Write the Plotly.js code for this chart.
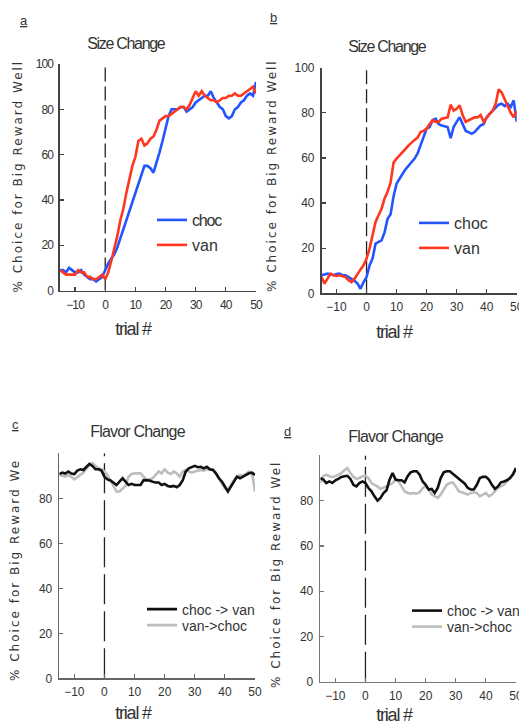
<!DOCTYPE html>
<html>
<head>
<meta charset="utf-8">
<script src="https://cdn.plot.ly/plotly-3.0.1.min.js"></script>
<style>
html,body{margin:0;padding:0;background:#fff;}
#chart{width:519px;height:725px;}
</style>
</head>
<body>
<div id="chart"></div>
<script>
// ---- data ----
const trials = [-15,-14,-13,-12,-11,-10,-9,-8,-7,-6,-5,-4,-3,-2,-1,0,1,2,3,4,5,6,7,8,9,10,11,12,13,14,15,16,17,18,19,20,21,22,23,24,25,26,27,28,29,30,31,32,33,34,35,36,37,38,39,40,41,42,43,44,45,46,47,48,49,50];

// Panel a: Size Change
const aChoc = [9,9,8,10,9,8,8,9,7,6,5,5,4,5,6,9,12,14,16,19,23,27,31,36,40,44,47,51,55,55,54,52,56,61,66,71,77,80,80,80,81,81,79,80,81,83,84,85,86,86,88,85,83,81,80,77,76,77,80,81,83,84,86,87,86,92];
const aVan  = [9,8,7,7,7,7,9,8,8,6,6,5,5,6,7,5,8,13,18,24,31,36,43,49,55,59,66,67,64,65,67,68,71,75,76,77,77,78,79,80,81,81,80,82,85,88,86,88,86,85,84,84,83,84,85,85,86,86,87,86,86,87,88,89,90,87];

// Panel b: Size Change
const bChoc = [8,8.5,8.7,8.3,8,8.5,8.7,8,8,7.2,6.5,5.5,4.3,2,5,7.2,12.4,15.4,22,22.7,23.5,27,33,35,43,48.6,51,53,55,56.5,58,59.7,62,65.6,70,73,73.7,76.7,77.4,75,74.4,74,73.7,68.8,73.7,76,78,75,72,71.4,70.7,71.5,73,74.4,75,78,79.5,81,82.5,83.6,84,83,84,82.6,85.5,76];
const bVan  = [7.2,4.3,6.5,8.7,8,7.7,8,7.5,7.2,5.8,5,6.5,8.7,10.6,12.4,15.4,19.8,25.7,31.6,34.6,37.5,42,45,49,58,59.7,61,62.6,64,65.6,67,68,69,71.5,72,73,75,76.7,76,76,77.4,77.8,78,83.6,81,81.8,83.3,79,76,76.7,77.4,78,78,79,76,78,79.5,81,84,90.4,89,86,83,80,78,81];

// Panel c: Flavor Change
const cChocVan = [90.8,91.4,91,91.9,91,90.8,92.3,92.9,92.6,94,95.3,94.4,92.9,92.9,92.3,89.6,88.4,87.9,86.7,85.9,87.4,88.9,87.4,85.9,86.4,85.9,85.9,85.9,88.1,88.1,87.9,87.4,87,87,85.9,86.4,85.5,85.2,85.5,84.9,85.9,88.1,91.9,93.3,93.8,94.4,93.8,94,93.3,94,92.9,92.6,91.1,88.9,87.4,85.2,83,85.2,87.4,89.6,88.9,89.6,90.4,91.1,91.4,90.4];
const cVanChoc = [90.4,89.9,89.6,90.4,89.6,88.4,89.6,90.4,91.4,93.3,94.8,95.6,94.4,93.3,92.9,91.9,90.4,88.1,85.2,83,83,84.4,85.5,89.6,90.8,91.1,91.1,91.1,89.6,88.4,88.4,88.9,90.4,91.9,91.1,92.9,91.4,90.8,91.9,91.1,89.6,91.9,92.6,91.9,91.4,91.9,92.3,92.6,92.3,92.9,92.6,92.9,91.4,88.9,87,84.4,83.7,85.9,88.1,89.6,90.4,89.9,90.8,91.9,91.1,83];

// Panel d: Flavor Change
const dChocVan = [90,89.3,87.8,88.5,87.8,89,89.6,90.5,90.8,91,89.6,87,86.3,87.8,88.5,87.8,85.6,84.1,81.9,80,81.2,83.4,84.6,89.3,92.2,89.3,89,89,88.1,90.8,92.5,93,93,91.5,88.5,87,84.9,85.2,83.4,85.6,90,92.5,93,93,91.9,90.8,89.6,88.5,87.5,85.6,84.9,84.9,87,90,90.5,90.5,89.3,87,85.2,86.3,88.1,88.5,89,90,91.5,94.4];
const dVanChoc = [87.8,90.8,91.5,90.8,90.5,90.8,91.5,92.2,93.4,94.4,92.2,90.5,89.6,90,90.8,91,90,87.8,87,86.3,85.2,85.6,86.3,87,87.8,89.3,88.5,86.3,84.1,83.4,83.1,83.4,83.1,83.7,85.6,86.3,84.9,82.7,81.9,81.2,82.7,84.9,87,87.8,88.1,86.3,84.1,83.7,83.1,82.7,83.4,83.7,83.4,81.9,82.7,83.4,81.9,82.7,84.1,85.6,86.3,87,88.5,90,92.2,94.4];

// reference onset line (trial 0)
const onsetX = [0, 0];
const onsetY = [0, 100];

const xTicks = [-10,0,10,20,30,40,50];
const yTicksSize = [0,20,40,60,80,100];
const yTicksFlavor = [0,20,40,60,80];

// ---- styling ----
const W = 519, H = 725;
const sans = "'Liberation Sans', Arial, sans-serif";
const wide = "'DejaVu Sans', Verdana, sans-serif";
const BLUE = 'rgb(35,85,255)', RED = 'rgb(255,55,30)', BLACK = '#111111', GRAY = '#bdbdbd';
const px = v => v / W;
const py = v => 1 - v / H;

function line(x, y, color, name, xa, ya, lg) {
  return {x: x, y: y, type: 'scatter', mode: 'lines', name: name,
    line: {color: color, width: 2.6}, xaxis: xa, yaxis: ya,
    legend: lg, showlegend: true, hoverinfo: 'skip'};
}
function onset(xa, ya, dash) {
  return {x: onsetX, y: onsetY, type: 'scatter', mode: 'lines', showlegend: false,
    line: {color: '#222', width: 1.3, dash: dash}, xaxis: xa, yaxis: ya, hoverinfo: 'skip'};
}

const traces = [
  onset('x', 'y', '14px,5px'),
  line(trials, aChoc, BLUE, 'choc', 'x', 'y', 'legend'),
  line(trials, aVan, RED, 'van', 'x', 'y', 'legend2'),
  onset('x2', 'y2', '14px,5px'),
  line(trials, bChoc, BLUE, 'choc', 'x2', 'y2', 'legend3'),
  line(trials, bVan, RED, 'van', 'x2', 'y2', 'legend4'),
  onset('x3', 'y3', '30px,7px'),
  line(trials, cVanChoc, GRAY, 'van->choc', 'x3', 'y3', 'legend6'),
  line(trials, cChocVan, BLACK, 'choc -> van', 'x3', 'y3', 'legend5'),
  onset('x4', 'y4', '30px,7px'),
  line(trials, dVanChoc, GRAY, 'van->choc', 'x4', 'y4', 'legend8'),
  line(trials, dChocVan, BLACK, 'choc -> van', 'x4', 'y4', 'legend7')
];

function xax(d0, d1, anchor, lc) {
  return {domain: [px(d0), px(d1)], range: [-15, 50], anchor: anchor,
    tickmode: 'array', tickvals: xTicks, ticks: 'inside', ticklen: 4, tickwidth: 1.2, tickcolor: lc,
    showline: true, linecolor: lc, linewidth: 1.6, showgrid: false, zeroline: false,
    ticklabeloverflow: 'allow',
    tickfont: {family: sans, size: 12, color: '#333'}, ticklabelstandoff: 2, fixedrange: true};
}
function yax(top, bottom, anchor, vals, lc) {
  return {domain: [py(bottom), py(top)], range: [0, 100], anchor: anchor,
    tickmode: 'array', tickvals: vals, ticks: 'inside', ticklen: 4, tickwidth: 1.2, tickcolor: lc,
    showline: true, linecolor: lc, linewidth: 1.6, showgrid: false, zeroline: false,
    ticklabeloverflow: 'allow',
    tickfont: {family: sans, size: 12, color: '#333'}, ticklabelstandoff: 3, fixedrange: true};
}

function ann(text, x, y, size, family, color, angle) {
  return {text: text, x: px(x), y: py(y), xref: 'paper', yref: 'paper', showarrow: false,
    xanchor: 'center', yanchor: 'middle', textangle: angle || 0,
    font: {family: family, size: size, color: color || '#333'}};
}

const panelLetters = ['a', 'b', 'c', 'd'];

const annotations = [
  ann(panelLetters[0], 24, 20, 13, sans, '#333'),
  ann(panelLetters[1], 273, 18, 13, sans, '#333'),
  ann(panelLetters[2], 15, 425, 13, sans, '#333'),
  ann(panelLetters[3], 288, 432, 13, sans, '#333'),

  ann('Size Change', 126, 43, 16, sans, '#333'),
  ann('Size Change', 387, 46.5, 16, sans, '#333'),
  ann('Flavor Change', 137, 431.5, 16, sans, '#333'),
  ann('Flavor Change', 395, 436.5, 16, sans, '#333'),

  ann('trial #', 133, 329, 18, sans, '#333'),
  ann('trial #', 394, 331.5, 18, sans, '#333'),
  ann('trial #', 133, 713, 18, sans, '#333'),
  ann('trial #', 394, 714.5, 18, sans, '#333'),

  ann('% Choice for Big Reward Well', 17, 176.5, 12, wide, '#333', -90),
  ann('% Choice for Big Reward Well', 272, 176, 12, wide, '#333', -90),
  ann('% Choice for Big Reward We', 15, 570, 12, wide, '#333', -90),
  ann('% Choice for Big Reward Wel', 276, 575, 12, wide, '#333', -90)
];

// text starts ~40px right of the legend anchor
function leg(textX, yc, size) {
  return {x: px(textX - 40), y: py(yc), xanchor: 'left', yanchor: 'middle', bgcolor: 'rgba(0,0,0,0)',
    borderwidth: 0, itemwidth: 30,
    font: {family: sans, size: size, color: '#333'}};
}

const layout = {
  width: W, height: H, margin: {l: 0, r: 0, t: 0, b: 0, autoexpand: false},
  paper_bgcolor: '#ffffff', plot_bgcolor: '#ffffff',
  showlegend: true,
  xaxis: xax(60, 256, 'y', '#444'),
  yaxis: yax(64, 290.5, 'x', yTicksSize, '#444'),
  xaxis2: xax(321.5, 516.7, 'y2', '#444'),
  yaxis2: yax(67.7, 293.3, 'x2', yTicksSize, '#444'),
  xaxis3: xax(59.3, 255, 'y3', '#666'),
  yaxis3: yax(453.3, 678.3, 'x3', yTicksFlavor, '#666'),
  xaxis4: xax(320.3, 516, 'y4', '#777'),
  yaxis4: yax(455.4, 681.7, 'x4', yTicksFlavor, '#777'),
  legend:  leg(192, 220, 16),
  legend2: leg(192, 245, 16),
  legend3: leg(454, 223, 16),
  legend4: leg(454, 248, 16),
  legend5: leg(182, 609.5, 14),
  legend6: leg(182, 625.5, 14),
  legend7: leg(447, 611, 14),
  legend8: leg(447, 627, 14),
  annotations: annotations
};

// letter spacing that imitates the condensed / spaced fonts of the original
const spacing = {
  'Size Change': '-1.3px', 'Flavor Change': '-0.8px', 'trial #': '-1.2px',
  '% Choice for Big Reward Well': '2px', '% Choice for Big Reward We': '2px',
  '% Choice for Big Reward Wel': '2px',
  'choc': '-1.2px', 'van': '-1.2px', 'choc -> van': '0.3px', 'van->choc': '0.3px'
};

Plotly.newPlot('chart', traces, layout, {displayModeBar: false, staticPlot: true}).then(gd => {
  gd.querySelectorAll('.xtick text, .ytick text').forEach(e => { e.style.letterSpacing = '-0.9px'; });
  gd.querySelectorAll('.annotation-text, .legendtext').forEach(e => {
    const t = e.textContent;
    if (spacing[t] !== undefined) e.style.letterSpacing = spacing[t];
    if (panelLetters.indexOf(t) >= 0) {
      e.style.textDecoration = 'underline wavy #6ab04c';
    }
  });
});
</script>
</body>
</html>
